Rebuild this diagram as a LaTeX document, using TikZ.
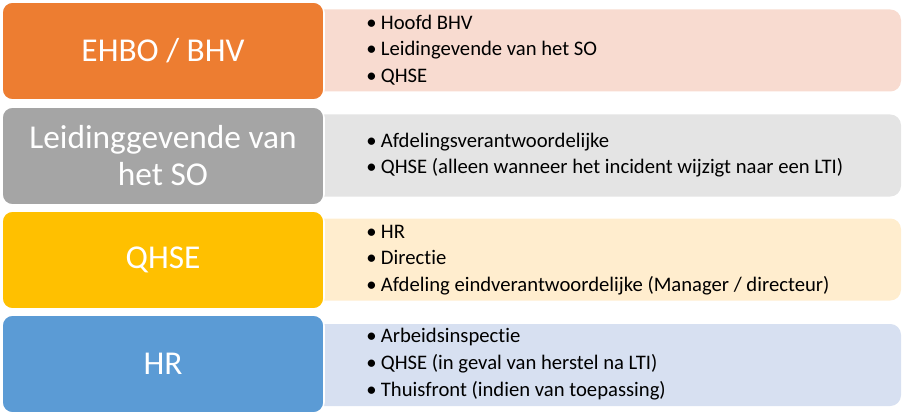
\documentclass[tikz,border=0pt]{standalone}
\usepackage{fontspec}
\setmainfont{Carlito}[Ligatures={NoCommon}]
\definecolor{cOr}{HTML}{ED7D31}\definecolor{lOr}{HTML}{F8DBD0}
\definecolor{cGr}{HTML}{A5A5A5}\definecolor{lGr}{HTML}{E4E4E4}
\definecolor{cGo}{HTML}{FFC000}\definecolor{lGo}{HTML}{FFEDCE}
\definecolor{cBl}{HTML}{5B9BD5}\definecolor{lBl}{HTML}{D7E0F1}
\tikzset{
  leftbox/.style={rectangle, rounded corners=8pt, draw=white, line width=1.2pt,
    minimum width=241.5pt, minimum height=73.5pt, inner sep=0pt, outer sep=0pt,
    text=white, align=center, font=\fontsize{25}{27.75}\selectfont},
  rightbox/.style={rectangle, rounded corners=8pt, draw=none,
    minimum width=443.25pt, minimum height=61.5pt, inner sep=0pt, outer sep=0pt},
  listtext/.style={anchor=west, inner sep=0pt, align=left, font=\fontsize{15.5}{20}\selectfont},
}
\newcommand{\bul}{\makebox[11pt][l]{\textbullet}}
\begin{document}
\begin{tikzpicture}[x=0.75pt,y=-0.75pt]
\useasboundingbox (0,0) rectangle (902,417);
% right boxes
\node[rightbox, fill=lOr] (R1) at (605.5,50.5) {};
\node[rightbox, fill=lGr] (R2) at (605.5,155.5) {};
\node[rightbox, fill=lGo] (R3) at (605.5,259.5) {};
\node[rightbox, fill=lBl] (R4) at (605.5,365) {};
% left boxes
\node[leftbox, fill=cOr] (L1) at (163,51) {EHBO / BHV};
\node[leftbox, fill=cGr] (L2) at (163,156) {Leidinggevende van\\het SO};
\node[leftbox, fill=cGo] (L3) at (163,260) {QHSE};
\node[leftbox, fill=cBl] (L4) at (163,364) {HR};
% lists
\node[listtext] (T1) at (366,50) {\bul Hoofd BHV\\\bul Leidingevende van het SO\\\bul QHSE};
\node[listtext] (T2) at (366,155) {\bul Afdelingsverantwoordelijke\\\bul QHSE (alleen wanneer het incident wijzigt naar een LTI)};
\node[listtext] (T3) at (366,260) {\bul HR\\\bul Directie\\\bul Afdeling eindverantwoordelijke (Manager / directeur)};
\node[listtext] (T4) at (366,364) {\bul Arbeidsinspectie\\\bul QHSE (in geval van herstel na LTI)\\\bul Thuisfront (indien van toepassing)};
\end{tikzpicture}
\end{document}
